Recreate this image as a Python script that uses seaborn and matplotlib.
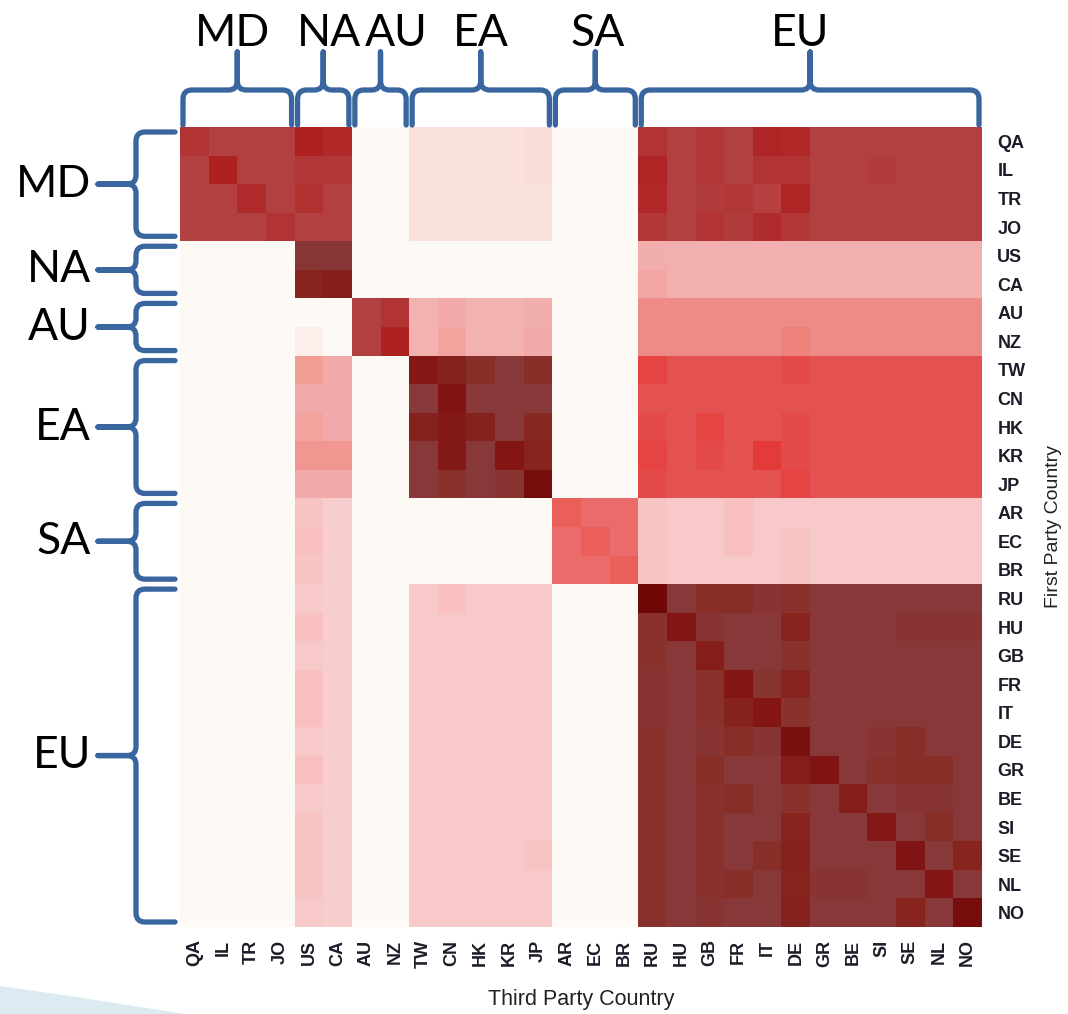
import numpy as np
import matplotlib
matplotlib.use("Agg")
import matplotlib.pyplot as plt
from matplotlib.colors import LinearSegmentedColormap
from matplotlib.path import Path
from matplotlib.patches import PathPatch, Polygon
import seaborn as sns

# ---------------- data ----------------
countries = ["QA", "IL", "TR", "JO", "US", "CA", "AU", "NZ", "TW", "CN", "HK", "KR", "JP",
             "AR", "EC", "BR", "RU", "HU", "GB", "FR", "IT", "DE", "GR", "BE", "SI", "SE", "NL", "NO"]
groups = ["MD", "NA", "AU", "EA", "SA", "EU"]
group_sizes = [4, 2, 2, 5, 3, 12]

# first party rows; columns in the order of `countries` (third party)
#            MD               NA       AU      EA                     SA         EU
row_QA = [63, 60, 60, 60,  68, 66,  0, 0,  5, 5, 5, 5, 6,  0, 0, 0,  63, 60, 62, 60, 67, 66, 60, 60, 60, 60, 60, 60]
row_IL = [60, 68, 60, 60,  62, 62,  0, 0,  5, 5, 5, 5, 6,  0, 0, 0,  67, 60, 62, 60, 63, 63, 60, 60, 61, 60, 60, 60]
row_TR = [60, 60, 65, 60,  64, 60,  0, 0,  5, 5, 5, 5, 5,  0, 0, 0,  66, 60, 61, 62, 59, 67, 60, 60, 60, 60, 60, 60]
row_JO = [60, 60, 60, 63,  60, 60,  0, 0,  5, 5, 5, 5, 5,  0, 0, 0,  62, 60, 63, 61, 65, 62, 60, 60, 60, 60, 60, 60]
row_US = [0, 0, 0, 0,  77, 77,  0, 0,  0, 0, 0, 0, 0,  0, 0, 0,  21, 20, 20, 20, 20, 20, 20, 20, 20, 20, 20, 20]
row_CA = [0, 0, 0, 0,  86, 89,  0, 0,  0, 0, 0, 0, 0,  0, 0, 0,  24, 20, 20, 20, 20, 20, 20, 20, 20, 20, 20, 20]
row_AU = [0, 0, 0, 0,  0, 0,  60, 63,  19, 23, 19, 19, 21,  0, 0, 0,  35, 35, 35, 35, 35, 35, 35, 35, 35, 35, 35, 35]
row_NZ = [0, 0, 0, 0,  2, 0,  60, 68,  19, 25, 19, 19, 23,  0, 0, 0,  35, 35, 35, 35, 35, 37, 35, 35, 35, 35, 35, 35]
row_TW = [0, 0, 0, 0,  27, 23,  0, 0,  91, 87, 82, 76, 82,  0, 0, 0,  50, 48, 48, 48, 48, 49, 48, 48, 48, 48, 48, 48]
row_CN = [0, 0, 0, 0,  23, 23,  0, 0,  76, 93, 76, 76, 76,  0, 0, 0,  48, 48, 48, 48, 48, 48, 48, 48, 48, 48, 48, 48]
row_HK = [0, 0, 0, 0,  25, 23,  0, 0,  87, 90, 87, 76, 84,  0, 0, 0,  49, 48, 50, 48, 48, 49, 48, 48, 48, 48, 48, 48]
row_KR = [0, 0, 0, 0,  30, 30,  0, 0,  76, 90, 76, 92, 86,  0, 0, 0,  50, 48, 49, 48, 52, 49, 48, 48, 48, 48, 48, 48]
row_JP = [0, 0, 0, 0,  23, 23,  0, 0,  76, 80, 76, 78, 97,  0, 0, 0,  49, 48, 48, 48, 48, 50, 48, 48, 48, 48, 48, 48]
row_AR = [0, 0, 0, 0,  13, 11,  0, 0,  0, 0, 0, 0, 0,  45, 42, 42,  13, 12, 12, 14, 12, 12, 12, 12, 12, 12, 12, 12]
row_EC = [0, 0, 0, 0,  14, 11,  0, 0,  0, 0, 0, 0, 0,  42, 45, 42,  13, 12, 12, 14, 12, 13, 12, 12, 12, 12, 12, 12]
row_BR = [0, 0, 0, 0,  13, 11,  0, 0,  0, 0, 0, 0, 0,  42, 42, 45,  13, 12, 12, 12, 12, 13, 12, 12, 12, 12, 12, 12]
row_RU = [0, 0, 0, 0,  12, 11,  0, 0,  12, 14, 12, 12, 12,  0, 0, 0,  100, 76, 82, 82, 78, 80, 76, 76, 76, 76, 76, 76]
row_HU = [0, 0, 0, 0,  14, 11,  0, 0,  12, 12, 12, 12, 12,  0, 0, 0,  80, 92, 78, 76, 76, 86, 76, 76, 76, 78, 78, 78]
row_GB = [0, 0, 0, 0,  12, 11,  0, 0,  12, 12, 12, 12, 12,  0, 0, 0,  80, 76, 89, 76, 76, 80, 76, 76, 76, 76, 76, 76]
row_FR = [0, 0, 0, 0,  14, 11,  0, 0,  12, 12, 12, 12, 12,  0, 0, 0,  78, 76, 80, 92, 78, 86, 76, 76, 76, 76, 76, 76]
row_IT = [0, 0, 0, 0,  14, 11,  0, 0,  12, 12, 12, 12, 12,  0, 0, 0,  78, 76, 80, 87, 92, 80, 76, 76, 76, 76, 76, 76]
row_DE = [0, 0, 0, 0,  12, 11,  0, 0,  12, 12, 12, 12, 12,  0, 0, 0,  80, 76, 78, 82, 78, 95, 76, 76, 78, 82, 76, 76]
row_GR = [0, 0, 0, 0,  14, 11,  0, 0,  12, 12, 12, 12, 12,  0, 0, 0,  80, 76, 82, 76, 76, 89, 93, 76, 80, 82, 82, 76]
row_BE = [0, 0, 0, 0,  12, 11,  0, 0,  12, 12, 12, 12, 12,  0, 0, 0,  80, 76, 80, 82, 76, 80, 76, 89, 76, 78, 78, 76]
row_SI = [0, 0, 0, 0,  13, 11,  0, 0,  12, 12, 12, 12, 12,  0, 0, 0,  80, 76, 80, 76, 76, 86, 76, 76, 91, 76, 82, 76]
row_SE = [0, 0, 0, 0,  13, 11,  0, 0,  12, 12, 12, 12, 13,  0, 0, 0,  80, 76, 80, 76, 82, 87, 76, 76, 76, 93, 76, 86]
row_NL = [0, 0, 0, 0,  13, 11,  0, 0,  12, 12, 12, 12, 12,  0, 0, 0,  80, 76, 80, 82, 76, 86, 78, 78, 76, 76, 92, 76]
row_NO = [0, 0, 0, 0,  12, 11,  0, 0,  12, 12, 12, 12, 12,  0, 0, 0,  80, 76, 78, 76, 76, 87, 76, 76, 76, 86, 76, 97]

matrix = np.array([row_QA, row_IL, row_TR, row_JO, row_US, row_CA, row_AU, row_NZ,
                   row_TW, row_CN, row_HK, row_KR, row_JP, row_AR, row_EC, row_BR,
                   row_RU, row_HU, row_GB, row_FR, row_IT, row_DE, row_GR, row_BE,
                   row_SI, row_SE, row_NL, row_NO], dtype=float)

# colour scale anchors (value, colour)
scale_values = [0, 5, 11, 12, 14, 19, 20, 23, 27, 30, 35, 37, 42, 45, 48, 52, 60, 68, 76, 84, 92, 100]
scale_colors = ["#FDF9F4", "#FBE0DD", "#F8CDCD", "#F8C8C8", "#F8C0BD", "#F2B3B0", "#F1B0AF",
                "#F2A8A8", "#F39E94", "#F19590", "#EE8A88", "#EF807A", "#EB6B6A", "#EB5F5A",
                "#E45050", "#E53A38", "#B34040", "#AF2020", "#883838", "#882A22", "#831515", "#700808"]

# ---------------- figure ----------------
sns.set_style("white")
plt.rcParams['font.family'] = ['Liberation Sans', 'DejaVu Sans']

cmap = LinearSegmentedColormap.from_list(
    "sim", [(v / 100.0, c) for v, c in zip(scale_values, scale_colors)])

W, H = 1068, 1014
fig = plt.figure(figsize=(W / 100, H / 100), dpi=100)
fig.patch.set_facecolor("white")
ax_l, ax_t, ax_w, ax_h = 180, 127, 802, 800
ax = fig.add_axes([ax_l / W, 1 - (ax_t + ax_h) / H, ax_w / W, ax_h / H])

sns.heatmap(matrix, ax=ax, cmap=cmap, vmin=0, vmax=100, cbar=False,
            xticklabels=countries, yticklabels=countries)
ax.yaxis.tick_right()
ax.yaxis.set_label_position("right")
ax.tick_params(axis='both', length=0, labelsize=13)
ax.tick_params(axis='y', pad=11, labelrotation=0)
ax.tick_params(axis='x', pad=9, labelrotation=90)
for lbl in ax.get_xticklabels() + ax.get_yticklabels():
    lbl.set_fontweight('bold')
    lbl.set_color('#1c1c28')

ax.set_xlabel("Third Party Country", fontsize=15.5, color='#222222')
ax.xaxis.set_label_coords(0.5, -(1000 - (ax_t + ax_h)) / ax_h)
ax.xaxis.label.set_va('center')
ax.set_ylabel("First Party Country", fontsize=14, color='#222222', rotation=90)
ax.yaxis.set_label_coords((1053 - ax_l) / ax_w, 0.5)
ax.yaxis.label.set_va('center')
ax.yaxis.label.set_ha('center')

# ---------------- braces overlay ----------------
ov = fig.add_axes([0, 0, 1, 1], zorder=5)
ov.set_xlim(0, W)
ov.set_ylim(H, 0)
ov.axis('off')
ov.patch.set_alpha(0)

brace_color = "#3A66A0"
lw = 3.8
cw = ax_w / len(countries)
ch = ax_h / len(countries)
bounds = np.concatenate([[0], np.cumsum(group_sizes)])
top_label_dx = [-5, 6, 16, 0, 2, -10]

lab_font = dict(family=['Lato', 'DejaVu Sans'], fontsize=32, color='black')

def draw_path(verts, codes):
    ov.add_patch(PathPatch(Path(verts, codes), fill=False, edgecolor=brace_color,
                           lw=lw, capstyle='round', joinstyle='round'))

M, L, Q = Path.MOVETO, Path.LINETO, Path.CURVE3
codes = [M, L, Q, Q, L, Q, Q, L, M, L, Q, Q, L, Q, Q, L]
for g, name in enumerate(groups):
    # top brace
    x0 = ax_l + bounds[g] * cw + 3
    x1 = ax_l + bounds[g + 1] * cw - 3
    xm = ax_l + (bounds[g] + bounds[g + 1]) / 2 * cw
    y_end, y_h, y_tip, r = 125, 90, 52, 9
    verts = [(x0, y_end), (x0, y_h + r), (x0, y_h), (x0 + r, y_h), (xm - r, y_h), (xm, y_h), (xm, y_h - r), (xm, y_tip),
             (xm, y_tip), (xm, y_h - r), (xm, y_h), (xm + r, y_h), (x1 - r, y_h), (x1, y_h), (x1, y_h + r), (x1, y_end)]
    draw_path(verts, codes)
    ov.text(xm + top_label_dx[g], 33, name, ha='center', va='center', **lab_font)

    # left brace
    y0 = ax_t + bounds[g] * ch + 5
    y1 = ax_t + bounds[g + 1] * ch - 5
    ym = ax_t + (bounds[g] + bounds[g + 1]) / 2 * ch
    x_end, x_v, x_tip = 175, 136, 98
    verts = [(x_end, y0), (x_v + r, y0), (x_v, y0), (x_v, y0 + r), (x_v, ym - r), (x_v, ym), (x_v - r, ym), (x_tip, ym),
             (x_tip, ym), (x_v - r, ym), (x_v, ym), (x_v, ym + r), (x_v, y1 - r), (x_v, y1), (x_v + r, y1), (x_end, y1)]
    draw_path(verts, codes)
    ov.text(91, ym, name, ha='right', va='center', **lab_font)

# slide decoration at bottom left
ov.add_patch(Polygon([(0, 986), (70, 996), (185, 1014), (0, 1014)], closed=True,
                     facecolor="#DCEBF2", edgecolor='none', zorder=0))

fig.savefig("out.png", dpi=100, facecolor="white")
